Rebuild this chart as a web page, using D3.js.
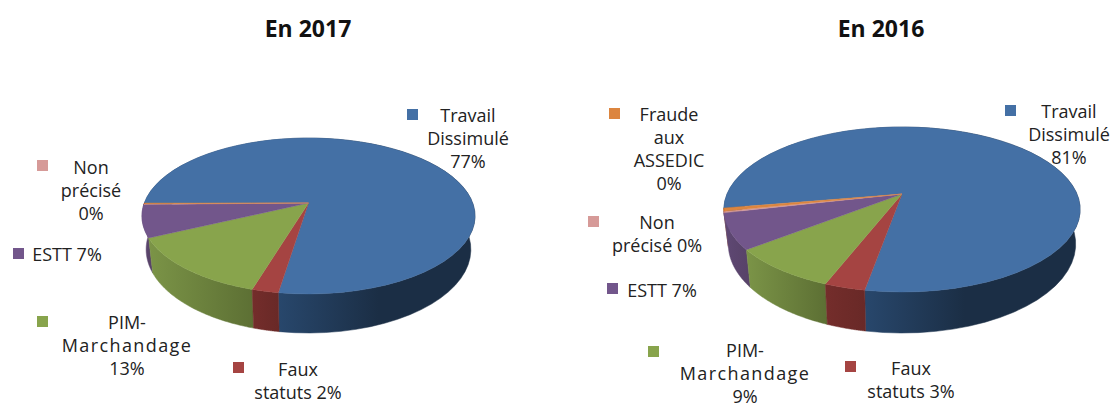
<!DOCTYPE html>
<html>
<head>
<meta charset="utf-8">
<script src="https://cdnjs.cloudflare.com/ajax/libs/d3/7.8.5/d3.min.js"></script>
<style>
  html, body { margin: 0; padding: 0; background: #fff; }
  text { font-family: "Open Sans", sans-serif; fill: #222; }
  .title { font-size: 23px; font-weight: 700; fill: #111; text-anchor: middle; }
  .lab { font-size: 18px; text-anchor: middle; }
</style>
</head>
<body>
<svg id="chart" width="1110" height="405"></svg>
<script>
// values (slices are a bit off the rounded labels)
var categories = ["Travail Dissimulé", "Faux statuts", "PIM-Marchandage", "ESTT", "Non précisé", "Fraude aux ASSEDIC"];
var values2017 = [77.45, 2.2, 13.3, 6.75, 0.15, 0.15];
var values2016 = [80.5, 3.1, 8.5, 7.0, 0.3, 0.6];
var labels2017 = [["Travail", "Dissimulé", "77%"], ["Faux", "statuts 2%"], ["PIM-", "Marchandage", "13%"], ["ESTT 7%"], ["Non", "précisé", "0%"], []];
var labels2016 = [["Travail", "Dissimulé", "81%"], ["Faux", "statuts 3%"], ["PIM-", "Marchandage", "9%"], ["ESTT 7%"], ["Non", "précisé 0%"], ["Fraude", "aux", "ASSEDIC", "0%"]];

var topColors = ["#4470a5", "#a54442", "#88a44c", "#72568b", "#d69a98", "#dc853f"];
var sideStart = ["#28476c", "#742d2b", "#7b9447", "#5f4874", "#b07a78", "#b96c30"];
var sideEnd = ["#1b2e45", "#692927", "#5d7034", "#584369", "#a07270", "#a96028"];

// where each pie goes: cx, apex y, radius, squash, perspective, wall depth, first angle
var pie2017 = { cx: 308.5, cy: 203, r: 164.2, s: 75.8, k: 0.167, d: 32.5, start: 270 };
var pie2016 = { cx: 902, cy: 194, r: 175, s: 79.6, k: 0.188, d: 33.3, start: 260.2 };

// swatch x, swatch y, text centre x, first baseline
var place2017 = [[407, 109, 468, 122], [233, 362, 298, 376], [37, 316, 127, 329], [13, 248, 67, 261], [37, 160, 91, 174], null];
var place2016 = [[1005, 105, 1069, 118], [845, 361, 911, 375], [648, 346, 745, 357], [607, 283, 662, 297], [588, 216, 657, 229], [609, 108, 669, 121]];

var svg = d3.select("#chart");
var defs = svg.append("defs");
var line = d3.line().x(function(d) { return d[0]; }).y(function(d) { return d[1]; });

function drawPie(id, title, titleX, values, labels, places, p) {
  var pie = d3.pie().sort(null)
    .startAngle(p.start * Math.PI / 180)
    .endAngle((p.start + 360) * Math.PI / 180);
  var arcs = pie(values);

  // disc -> screen, with the perspective of the 3d chart
  function topPt(a) {
    var u = Math.sin(a), v = -Math.cos(a), w = 1 - p.k * v;
    return [p.cx + p.r * u / w, p.cy + p.s * v / w];
  }
  function botPt(a) {
    var u = Math.sin(a), v = -Math.cos(a), w = 1 - p.k * v;
    return [p.cx + p.r * 0.975 * u / w, p.cy + (p.s * v + p.d) / w];
  }
  function rim(d, fn) {
    return d3.range(0, 61).map(function(i) {
      return fn(d.startAngle + (d.endAngle - d.startAngle) * i / 60);
    });
  }

  var g = svg.append("g");

  // walls first, back ones before front ones
  var walls = arcs.slice().sort(function(a, b) {
    return -Math.cos((a.startAngle + a.endAngle) / 2) - -Math.cos((b.startAngle + b.endAngle) / 2);
  });
  walls.forEach(function(d) {
    var topRim = rim(d, topPt), botRim = rim(d, botPt).reverse();
    var xs = d3.extent(topRim, function(q) { return q[0]; });
    // the blue wall only fades over its front part
    var x1 = d.index == 0 ? arcs[0].endAngle && topPt(arcs[0].endAngle)[0] : xs[0];
    var gid = id + "side" + d.index;
    var grad = defs.append("linearGradient").attr("id", gid)
      .attr("gradientUnits", "userSpaceOnUse")
      .attr("x1", x1).attr("x2", d.index == 0 ? x1 + 100 : xs[1])
      .attr("y1", 0).attr("y2", 0);
    grad.append("stop").attr("offset", 0).attr("stop-color", sideStart[d.index]);
    grad.append("stop").attr("offset", 1).attr("stop-color", sideEnd[d.index]);
    g.append("path")
      .attr("d", line(topRim.concat(botRim)) + "Z")
      .attr("fill", "url(#" + gid + ")")
      .attr("stroke", "url(#" + gid + ")")
      .attr("stroke-width", 0.5);
  });

  // top face
  arcs.forEach(function(d) {
    var pts = [[p.cx, p.cy]].concat(rim(d, topPt));
    g.append("path")
      .attr("d", line(pts) + "Z")
      .attr("fill", topColors[d.index])
      .attr("stroke", topColors[d.index])
      .attr("stroke-width", 0.4);
  });

  svg.append("text").attr("class", "title")
    .attr("x", titleX).attr("y", 37).text(title);

  // labels with their little square
  labels.forEach(function(lines, i) {
    if (!places[i]) return;
    var pl = places[i];
    svg.append("rect")
      .attr("x", pl[0]).attr("y", pl[1]).attr("width", 11).attr("height", 11)
      .attr("fill", topColors[i]);
    lines.forEach(function(t, j) {
      svg.append("text").attr("class", "lab")
        .attr("x", pl[2]).attr("y", pl[3] + j * 23)
        .style("letter-spacing", t == "Marchandage" ? "1.4px" : null) // this word runs wider in the original font
        .text(t);
    });
  });
}

drawPie("a", "En 2017", 308, values2017, labels2017, place2017, pie2017);
drawPie("b", "En 2016", 881, values2016, labels2016, place2016, pie2016);
</script>
</body>
</html>
